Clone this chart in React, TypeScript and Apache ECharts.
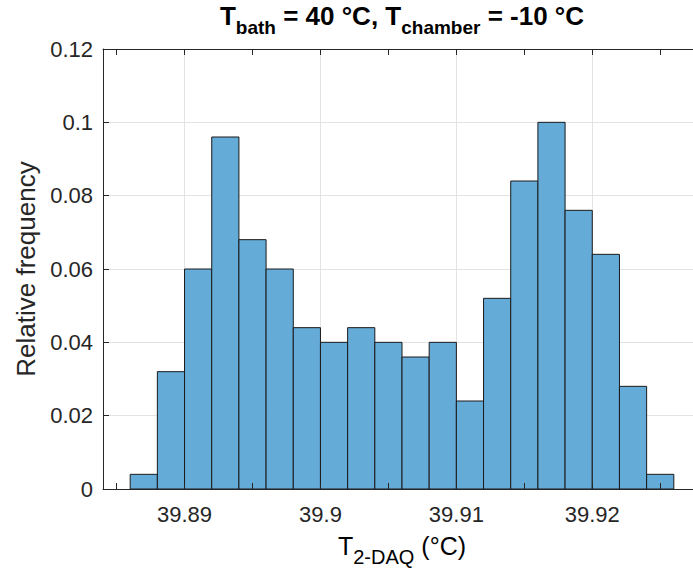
import React, { useEffect, useRef } from "react";
import * as echarts from "echarts";

// Histogram bin edges (°C) and relative frequencies per bin
const binEdges = [
  39.886, 39.888, 39.89, 39.892, 39.894, 39.896, 39.898, 39.9, 39.902, 39.904,
  39.906, 39.908, 39.91, 39.912, 39.914, 39.916, 39.918, 39.92, 39.922, 39.924,
  39.926,
];
const relFreq = [
  0.004, 0.032, 0.06, 0.096, 0.068, 0.06, 0.044, 0.04, 0.044, 0.04,
  0.036, 0.04, 0.024, 0.052, 0.084, 0.1, 0.076, 0.064, 0.028, 0.004,
];
const xTicks = [39.885, 39.89, 39.895, 39.9, 39.905, 39.91, 39.915, 39.92, 39.925];
const xTickLabels = [39.89, 39.9, 39.91, 39.92];
const yTicks = [0, 0.02, 0.04, 0.06, 0.08, 0.1, 0.12];
const xMin = 39.884;
const xMax = 39.928;
const yMin = 0;
const yMax = 0.12;
const yStep = 0.02;

const FONT = "'Liberation Sans', Arial, Helvetica, sans-serif";
const AXIS_COLOR = "#262626";
const GRID_COLOR = "#e3e3e3";

export default function App() {
  const ref = useRef<HTMLDivElement>(null);

  useEffect(() => {
    document.body.style.margin = "0";
    if (!ref.current) return;
    const chart = echarts.init(ref.current, null, { renderer: "svg" });

    const bins = relFreq.map((v, i) => [binEdges[i], binEdges[i + 1], v]);
    const gridLeft = 103;
    const gridTop = 49;
    const gridW = 598;
    const gridH = 440;
    const cx = gridLeft + gridW / 2;

    const tickCommon = {
      show: true,
      inside: true,
      length: 6,
      customValues: xTicks,
      lineStyle: { color: AXIS_COLOR, width: 1 },
    };

    chart.setOption({
      animation: false,
      textStyle: { fontFamily: FONT },
      grid: {
        left: gridLeft,
        top: gridTop,
        width: gridW,
        height: gridH,
        containLabel: false,
        outerBoundsMode: "none",
      },
      xAxis: [
        {
          type: "value",
          min: xMin,
          max: xMax,
          position: "bottom",
          z: 10,
          axisLine: { show: true, onZero: false, lineStyle: { color: AXIS_COLOR, width: 1 } },
          axisTick: tickCommon,
          splitLine: { show: false },
          axisLabel: {
            show: true,
            customValues: xTickLabels,
            color: AXIS_COLOR,
            fontSize: 22,
            fontFamily: FONT,
            margin: 14,
            formatter: (v: number) => String(parseFloat(v.toFixed(4))),
          },
        },
        {
          type: "value",
          min: xMin,
          max: xMax,
          position: "top",
          z: 10,
          axisLine: { show: true, onZero: false, lineStyle: { color: AXIS_COLOR, width: 1 } },
          axisTick: tickCommon,
          splitLine: { show: false },
          axisLabel: { show: false },
        },
      ],
      yAxis: [
        {
          type: "value",
          min: yMin,
          max: yMax,
          interval: yStep,
          position: "left",
          z: 10,
          axisLine: { show: true, lineStyle: { color: AXIS_COLOR, width: 1 } },
          axisTick: { show: true, inside: true, length: 6, lineStyle: { color: AXIS_COLOR } },
          splitLine: { show: false },
          axisLabel: {
            color: AXIS_COLOR,
            fontSize: 22,
            fontFamily: FONT,
            margin: 10,
            formatter: (v: number) => String(parseFloat(v.toFixed(3))),
          },
        },
      ],
      series: [
        {
          type: "line",
          data: [],
          z: 1,
          silent: true,
          markLine: {
            z: 1,
            silent: true,
            symbol: ["none", "none"],
            label: { show: false },
            lineStyle: { color: GRID_COLOR, width: 1, type: "solid" },
            data: [
              ...xTicks.map((t) => ({ xAxis: t })),
              ...yTicks.slice(1).map((t) => ({ yAxis: t })),
            ],
          },
        },
        {
          type: "custom",
          z: 4,
          data: bins,
          encode: { x: [0, 1], y: 2 },
          renderItem: (params: any, api: any) => {
            const x0 = api.value(0);
            const x1 = api.value(1);
            const y = api.value(2);
            const p0 = api.coord([x0, y]);
            const p1 = api.coord([x1, 0]);
            return {
              type: "rect",
              shape: { x: p0[0], y: p0[1], width: p1[0] - p0[0], height: p1[1] - p0[1] },
              style: { fill: "#64abd8", stroke: "#1a1a1a", lineWidth: 1 },
            };
          },
        },
      ],
      graphic: [
        {
          type: "text",
          style: {
            x: cx,
            y: 3,
            align: "center",
            verticalAlign: "top",
            text: "{m|T}{s|bath}{m| = 40 °C, T}{s|chamber}{m| = -10 °C}",
            rich: {
              m: { fontSize: 26, fontWeight: "bold", fontFamily: FONT, color: "#000", verticalAlign: "top", lineHeight: 27 },
              s: { fontSize: 19, fontWeight: "bold", fontFamily: FONT, color: "#000", verticalAlign: "top", lineHeight: 19, padding: [15, 0, 0, 0] },
            },
          },
        },
        {
          type: "text",
          style: {
            x: cx,
            y: 533,
            align: "center",
            verticalAlign: "top",
            text: "{m|T}{s|2-DAQ}{m| (°C)}",
            rich: {
              m: { fontSize: 25, fontFamily: FONT, color: AXIS_COLOR, verticalAlign: "top", lineHeight: 26 },
              s: { fontSize: 20, fontFamily: FONT, color: AXIS_COLOR, verticalAlign: "top", lineHeight: 20, padding: [14, 0, 0, 0] },
            },
          },
        },
        {
          type: "text",
          x: 26,
          y: gridTop + gridH / 2,
          rotation: Math.PI / 2,
          style: {
            x: 0,
            y: 0,
            align: "center",
            verticalAlign: "middle",
            text: "Relative frequency",
            fontSize: 26,
            fontFamily: FONT,
            fill: AXIS_COLOR,
          },
        },
      ],
    });

    return () => chart.dispose();
  }, []);

  return <div ref={ref} style={{ width: 693, height: 577 }} />;
}
